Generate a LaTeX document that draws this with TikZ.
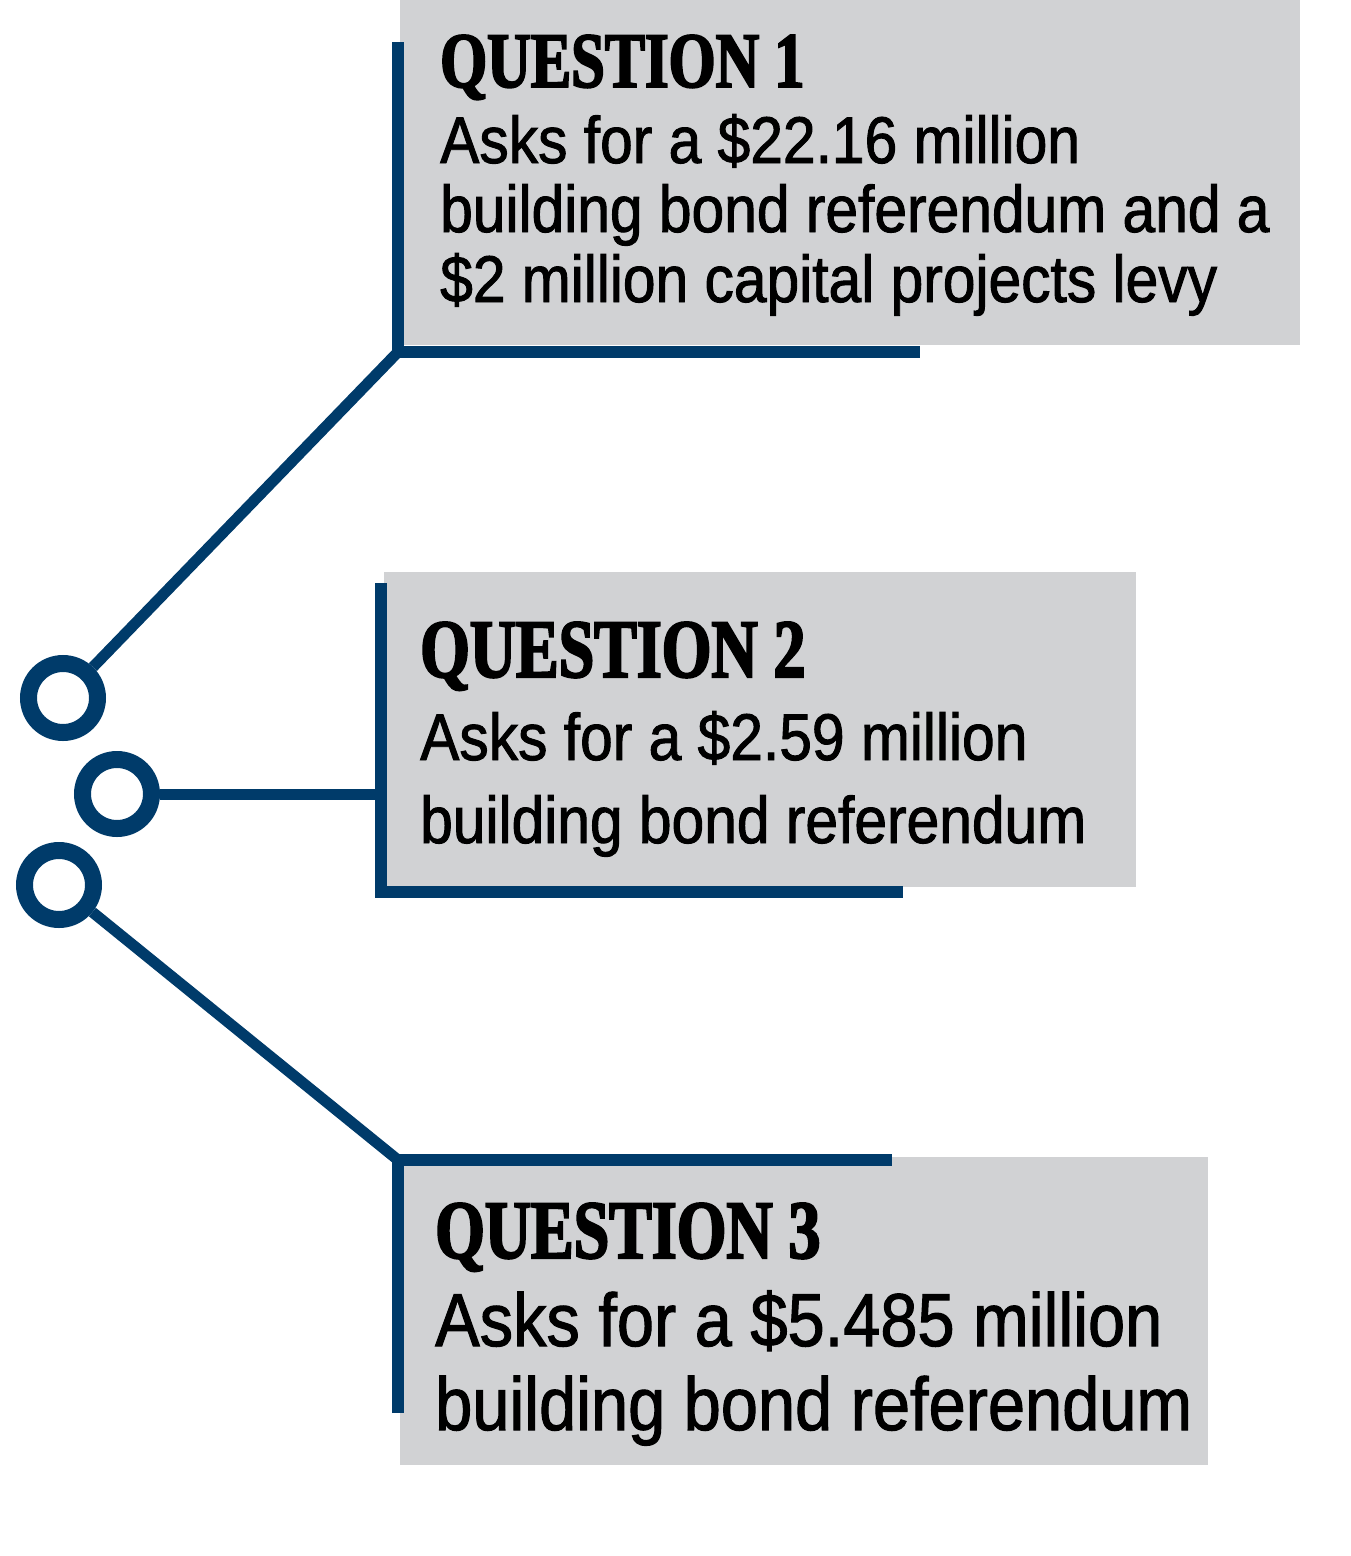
\documentclass[tikz,border=0pt]{standalone}
\usepackage{fontspec}
\newfontfamily\headfont[FakeStretch=0.77,FakeBold=2.5]{Liberation Serif}
\newfontfamily\bodyfont[FakeStretch=0.89,FakeBold=1.4]{Liberation Sans}
\definecolor{navy}{RGB}{0,59,106}
\definecolor{boxgray}{RGB}{209,210,212}

\begin{document}
\begin{tikzpicture}[x=1pt,y=-1pt,
  qbox/.style={fill=boxgray,inner sep=0pt,outer sep=0pt,anchor=north west},
  rule/.style={navy,line width=12pt},
  link/.style={navy,line width=11pt},
  dot/.style={circle,draw=navy,line width=17pt,minimum size=69pt,inner sep=0pt},
  head/.style={anchor=base west,inner sep=0pt,font=\headfont\bfseries\fontsize{#1}{#1}\selectfont},
  body/.style={anchor=base west,inner sep=0pt,font=\bodyfont\fontsize{#1}{#1}\selectfont}]
\useasboundingbox (0,0) rectangle (1350,1556);
% panels
\node[qbox,minimum width=900pt,minimum height=345pt] (q1) at (400,0) {};
\node[qbox,minimum width=752pt,minimum height=315pt] (q2) at (384,572) {};
\node[qbox,minimum width=808pt,minimum height=308pt] (q3) at (400,1157) {};
% corners
\coordinate (k1) at (398,352);
\coordinate (k2) at (381,794);
\coordinate (k3) at (398,1160);
\draw[rule] (398,42) -- (k1) -- (920,352);
\draw[rule] (381,583) -- (381,892) -- (903,892);
\draw[rule] (398,1413) -- (k3) -- (892,1160);
% rings
\node[dot] (c1) at (63,698) {};
\node[dot] (c2) at (117,794) {};
\node[dot] (c3) at (59,885) {};
\draw[link] (c1) -- (k1);
\draw[link] (c2) -- (k2);
\draw[link] (c3) -- (k3);
% texts
\node[head=78.5] (t1) at (440,87) {QUESTION 1};
\node[body=66] (t1a) at (440,163) {Asks for a \$22.16 million};
\node[body=66] (t1b) at (440,232) {building bond referendum and a};
\node[body=66] (t1c) at (440,302) {\$2 million capital projects levy};
\node[head=83] (t2) at (420,677) {QUESTION 2};
\node[body=66] (t2a) at (420,760) {Asks for a \$2.59 million};
\node[body=66] (t2b) at (420,843) {building bond referendum};
\node[head=83] (t3) at (435,1258) {QUESTION 3};
\node[body=75] (t3a) at (435,1346) {Asks for a \$5.485 million};
\node[body=75] (t3b) at (435,1430) {building bond referendum};
\end{tikzpicture}
\end{document}
